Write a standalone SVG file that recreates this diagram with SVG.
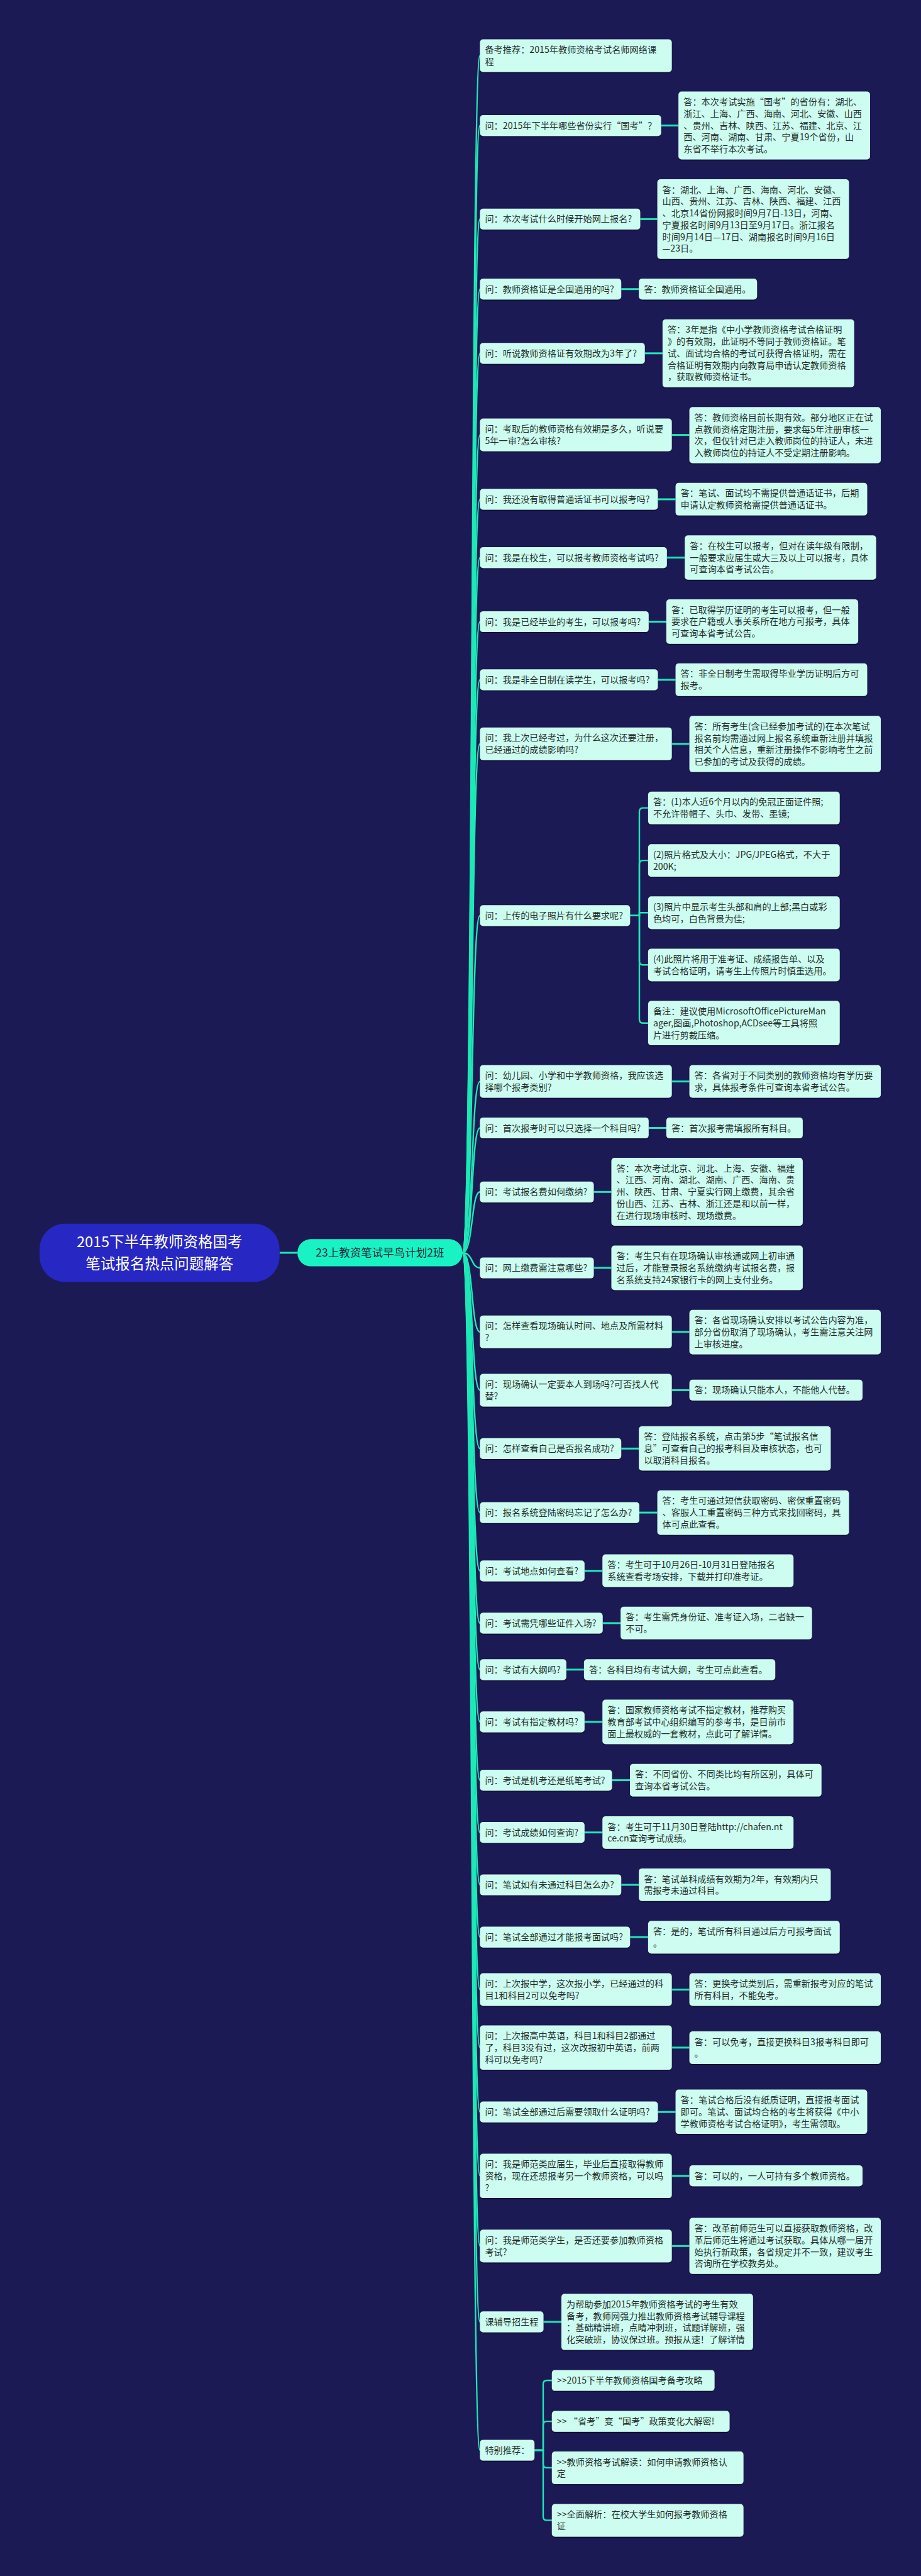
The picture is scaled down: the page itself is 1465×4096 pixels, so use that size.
<svg xmlns="http://www.w3.org/2000/svg" width="1465" height="4096" viewBox="0 0 1465 4096">
<defs>
<filter id="sh" x="-5%" y="-10%" width="110%" height="130%"><feDropShadow dx="0" dy="1.6" stdDeviation="0.7" flood-color="#000" flood-opacity="0.45"/></filter>
</defs>
<style>
.leaf{fill:#cdfdf0;filter:url(#sh)}
.t{font-family:"Noto Sans CJK SC","Noto Sans",sans-serif;font-size:14.2px;fill:#1f2f2c}
.c{fill:none;stroke:#1ee8b8;stroke-width:2.4;stroke-linecap:round}
.qa{fill:none;stroke:#1ee8b8;stroke-width:3}
</style>
<rect x="0" y="0" width="1465" height="4096" fill="#1b1a54"/>

<g id="connectors">
<path class="qa" d="M444.7,1992 H473.2"/>
<path class="c" d="M735.6,1992 C753,1992 749,88.5 763.4,88.5"/>
<path class="c" d="M735.6,1992 C753,1992 749,199.6 763.4,199.6"/>
<path class="c" d="M735.6,1992 C753,1992 749,348.4 763.4,348.4"/>
<path class="c" d="M735.6,1992 C753,1992 749,459.7 763.4,459.7"/>
<path class="c" d="M735.6,1992 C753,1992 749,561.8 763.4,561.8"/>
<path class="c" d="M735.6,1992 C753,1992 749,691.6 763.4,691.6"/>
<path class="c" d="M735.6,1992 C753,1992 749,793.9 763.4,793.9"/>
<path class="c" d="M735.6,1992 C753,1992 749,886.6 763.4,886.6"/>
<path class="c" d="M735.6,1992 C753,1992 749,988.5 763.4,988.5"/>
<path class="c" d="M735.6,1992 C753,1992 749,1080.9 763.4,1080.9"/>
<path class="c" d="M735.6,1992 C753,1992 749,1182.8 763.4,1182.8"/>
<path class="c" d="M735.6,1992 C753,1992 749,1455.9 763.4,1455.9"/>
<path class="c" d="M735.6,1992 C753,1992 749,1719.6 763.4,1719.6"/>
<path class="c" d="M735.6,1992 C753,1992 749,1793.5 763.4,1793.5"/>
<path class="c" d="M735.6,1992 C753,1992 749,1895.3 763.4,1895.3"/>
<path class="c" d="M735.6,1992 C753,1992 749,2016 763.4,2016"/>
<path class="c" d="M735.6,1992 C753,1992 749,2117.8 763.4,2117.8"/>
<path class="c" d="M735.6,1992 C753,1992 749,2210.5 763.4,2210.5"/>
<path class="c" d="M735.6,1992 C753,1992 749,2303.3 763.4,2303.3"/>
<path class="c" d="M735.6,1992 C753,1992 749,2405.1 763.4,2405.1"/>
<path class="c" d="M735.6,1992 C753,1992 749,2497.8 763.4,2497.8"/>
<path class="c" d="M735.6,1992 C753,1992 749,2580.9 763.4,2580.9"/>
<path class="c" d="M735.6,1992 C753,1992 749,2654.8 763.4,2654.8"/>
<path class="c" d="M735.6,1992 C753,1992 749,2737.9 763.4,2737.9"/>
<path class="c" d="M735.6,1992 C753,1992 749,2830.6 763.4,2830.6"/>
<path class="c" d="M735.6,1992 C753,1992 749,2913.7 763.4,2913.7"/>
<path class="c" d="M735.6,1992 C753,1992 749,2997 763.4,2997"/>
<path class="c" d="M735.6,1992 C753,1992 749,3080.1 763.4,3080.1"/>
<path class="c" d="M735.6,1992 C753,1992 749,3163.6 763.4,3163.6"/>
<path class="c" d="M735.6,1992 C753,1992 749,3255.8 763.4,3255.8"/>
<path class="c" d="M735.6,1992 C753,1992 749,3358.2 763.4,3358.2"/>
<path class="c" d="M735.6,1992 C753,1992 749,3459.8 763.4,3459.8"/>
<path class="c" d="M735.6,1992 C753,1992 749,3571.3 763.4,3571.3"/>
<path class="c" d="M735.6,1992 C753,1992 749,3691.9 763.4,3691.9"/>
<path class="c" d="M735.6,1992 C753,1992 749,3896 763.4,3896"/>

<path class="qa" d="M1051.6,199.6 H1079.2"/>
<path class="qa" d="M1018.4,348.4 H1045.6"/>
<path class="qa" d="M988.2,459.7 H1016.2"/>
<path class="qa" d="M1025.7,561.8 H1053.9"/>
<path class="qa" d="M1068.6,691.6 H1096.6"/>
<path class="qa" d="M1046.4,793.9 H1074.6"/>
<path class="qa" d="M1060.8,886.6 H1089.3"/>
<path class="qa" d="M1031.8,988.5 H1059.9"/>
<path class="qa" d="M1046.4,1080.9 H1074.6"/>
<path class="qa" d="M1068.6,1182.8 H1096.6"/>
<path class="qa" d="M1068.6,1719.6 H1096.6"/>
<path class="qa" d="M1031.8,1793.5 H1059.9"/>
<path class="qa" d="M944.5,1895.3 H972.5"/>
<path class="qa" d="M944.5,2016 H972.5"/>
<path class="qa" d="M1068.6,2117.8 H1096.6"/>
<path class="qa" d="M1068.6,2210.5 H1096.6"/>
<path class="qa" d="M988.2,2303.3 H1016.2"/>
<path class="qa" d="M1017,2405.1 H1045.6"/>
<path class="qa" d="M929.8,2497.8 H958.3"/>
<path class="qa" d="M958.7,2580.9 H987.2"/>
<path class="qa" d="M900.8,2654.8 H928.9"/>
<path class="qa" d="M929.8,2737.9 H958.3"/>
<path class="qa" d="M973.5,2830.6 H1002"/>
<path class="qa" d="M929.8,2913.7 H958.3"/>
<path class="qa" d="M988.2,2997 H1016.2"/>
<path class="qa" d="M1002.2,3080.1 H1030.9"/>
<path class="qa" d="M1068.6,3163.6 H1096.6"/>
<path class="qa" d="M1068.6,3255.8 H1096.6"/>
<path class="qa" d="M1046.5,3358.2 H1074.6"/>
<path class="qa" d="M1068.6,3459.8 H1096.6"/>
<path class="qa" d="M1068.6,3571.3 H1096.6"/>
<path class="qa" d="M864.5,3691.9 H893"/>

<path class="c" d="M1002.3,1455.9 H1017 V1290.6 Q1017,1284.6 1023,1284.6 H1030.9"/>
<path class="c" d="M1002.3,1455.9 H1017 V1374.1 Q1017,1368.1 1023,1368.1 H1030.9"/>
<path class="c" d="M1002.3,1455.9 H1017 V1451.2 H1030.9"/>
<path class="c" d="M1002.3,1455.9 H1017 V1528.3 Q1017,1534.3 1023,1534.3 H1030.9"/>
<path class="c" d="M1002.3,1455.9 H1017 V1620.8 Q1017,1626.8 1023,1626.8 H1030.9"/>

<path class="c" d="M850.2,3896 H864 V3791 Q864,3785 870,3785 H877.8"/>
<path class="c" d="M850.2,3896 H864 V3856.1 Q864,3850.1 870,3850.1 H877.8"/>
<path class="c" d="M850.2,3896 H864 V3917.9 Q864,3923.9 870,3923.9 H877.8"/>
<path class="c" d="M850.2,3896 H864 V4001.4 Q864,4007.4 870,4007.4 H877.8"/>
</g>

<g id="root">
<rect x="62.9" y="1945.8" width="381.8" height="92.5" rx="40" fill="#2727c3"/>
<text font-family="'Noto Sans CJK SC','Noto Sans',sans-serif" font-size="23.5" fill="#ffffff" text-anchor="middle"><tspan x="253.8" y="1982.5">2015下半年教师资格国考</tspan><tspan x="253.8" y="2017.8">笔试报名热点问题解答</tspan></text>
</g>

<g id="center">
<rect x="473.2" y="1970.3" width="262.4" height="43.3" rx="21" fill="#19f2c2"/>
<text font-family="'Noto Sans CJK SC','Noto Sans',sans-serif" font-size="17.5" fill="#1b2a40" text-anchor="middle"><tspan x="604.4" y="1998.2">23上教资笔试早鸟计划2班</tspan></text>
</g>

<g id="n1"><rect class="leaf" x="763.4" y="62.6" width="305.2" height="51.9" rx="5"/><text class="t"><tspan x="771.4" y="84.2">备考推荐：2015年教师资格考试名师网络课</tspan><tspan x="771.4" y="102.9">程</tspan></text></g>

<g id="n2"><rect class="leaf" x="763.4" y="183" width="288.2" height="33.2" rx="5"/><text class="t"><tspan x="771.4" y="204.6">问：2015年下半年哪些省份实行“国考”？</tspan></text></g>
<g id="a2"><rect class="leaf" x="1079.2" y="145.6" width="304.8" height="107.9" rx="5"/><text class="t"><tspan x="1087.2" y="167.2">答：本次考试实施“国考”的省份有：湖北、</tspan><tspan x="1087.2" y="185.9">浙江、上海、广西、海南、河北、安徽、山西</tspan><tspan x="1087.2" y="204.6">、贵州、吉林、陕西、江苏、福建、北京、江</tspan><tspan x="1087.2" y="223.3">西、河南、湖南、甘肃、宁夏19个省份，山</tspan><tspan x="1087.2" y="242">东省不举行本次考试。</tspan></text></g>

<g id="n3"><rect class="leaf" x="763.4" y="331.8" width="255" height="33.2" rx="5"/><text class="t"><tspan x="771.4" y="353.4">问：本次考试什么时候开始网上报名?</tspan></text></g>
<g id="a3"><rect class="leaf" x="1045.6" y="285.1" width="304.8" height="126.6" rx="5"/><text class="t"><tspan x="1053.6" y="306.7">答：湖北、上海、广西、海南、河北、安徽、</tspan><tspan x="1053.6" y="325.4">山西、贵州、江苏、吉林、陕西、福建、江西</tspan><tspan x="1053.6" y="344.1">、北京14省份网报时间9月7日-13日，河南、</tspan><tspan x="1053.6" y="362.8">宁夏报名时间9月13日至9月17日。浙江报名</tspan><tspan x="1053.6" y="381.5">时间9月14日—17日、湖南报名时间9月16日</tspan><tspan x="1053.6" y="400.2">—23日。</tspan></text></g>

<g id="n4"><rect class="leaf" x="763.4" y="443.1" width="224.8" height="33.2" rx="5"/><text class="t"><tspan x="771.4" y="464.7">问：教师资格证是全国通用的吗?</tspan></text></g>
<g id="a4"><rect class="leaf" x="1016.2" y="443.1" width="188" height="33.2" rx="5"/><text class="t"><tspan x="1024.2" y="464.7">答：教师资格证全国通用。</tspan></text></g>

<g id="n5"><rect class="leaf" x="763.4" y="545.2" width="262.3" height="33.2" rx="5"/><text class="t"><tspan x="771.4" y="566.8">问：听说教师资格证有效期改为3年了?</tspan></text></g>
<g id="a5"><rect class="leaf" x="1053.9" y="507.8" width="304.8" height="107.9" rx="5"/><text class="t"><tspan x="1061.9" y="529.4">答：3年是指《中小学教师资格考试合格证明</tspan><tspan x="1061.9" y="548.1">》的有效期，此证明不等同于教师资格证。笔</tspan><tspan x="1061.9" y="566.8">试、面试均合格的考试可获得合格证明，需在</tspan><tspan x="1061.9" y="585.5">合格证明有效期内向教育局申请认定教师资格</tspan><tspan x="1061.9" y="604.2">，获取教师资格证书。</tspan></text></g>

<g id="n6"><rect class="leaf" x="763.4" y="665.6" width="305.2" height="51.9" rx="5"/><text class="t"><tspan x="771.4" y="687.2">问：考取后的教师资格有效期是多久，听说要</tspan><tspan x="771.4" y="705.9">5年一审?怎么审核?</tspan></text></g>
<g id="a6"><rect class="leaf" x="1096.6" y="647.2" width="304.4" height="89.3" rx="5"/><text class="t"><tspan x="1104.6" y="668.8">答：教师资格目前长期有效。部分地区正在试</tspan><tspan x="1104.6" y="687.5">点教师资格定期注册，要求每5年注册审核一</tspan><tspan x="1104.6" y="706.2">次，但仅针对已走入教师岗位的持证人，未进</tspan><tspan x="1104.6" y="724.9">入教师岗位的持证人不受定期注册影响。</tspan></text></g>

<g id="n7"><rect class="leaf" x="763.4" y="777.3" width="283" height="33.2" rx="5"/><text class="t"><tspan x="771.4" y="798.9">问：我还没有取得普通话证书可以报考吗?</tspan></text></g>
<g id="a7"><rect class="leaf" x="1074.6" y="767.7" width="304.8" height="51.9" rx="5"/><text class="t"><tspan x="1082.6" y="789.3">答：笔试、面试均不需提供普通话证书，后期</tspan><tspan x="1082.6" y="808">申请认定教师资格需提供普通话证书。</tspan></text></g>

<g id="n8"><rect class="leaf" x="763.4" y="870" width="297.4" height="33.2" rx="5"/><text class="t"><tspan x="771.4" y="891.6">问：我是在校生，可以报考教师资格考试吗?</tspan></text></g>
<g id="a8"><rect class="leaf" x="1089.3" y="851.2" width="304.3" height="70.6" rx="5"/><text class="t"><tspan x="1097.3" y="872.8">答：在校生可以报考，但对在读年级有限制，</tspan><tspan x="1097.3" y="891.5">一般要求应届生或大三及以上可以报考，具体</tspan><tspan x="1097.3" y="910.2">可查询本省考试公告。</tspan></text></g>

<g id="n9"><rect class="leaf" x="763.4" y="971.9" width="268.4" height="33.2" rx="5"/><text class="t"><tspan x="771.4" y="993.5">问：我是已经毕业的考生，可以报考吗?</tspan></text></g>
<g id="a9"><rect class="leaf" x="1059.9" y="953.1" width="305.2" height="70.6" rx="5"/><text class="t"><tspan x="1067.9" y="974.7">答：已取得学历证明的考生可以报考，但一般</tspan><tspan x="1067.9" y="993.4">要求在户籍或人事关系所在地方可报考，具体</tspan><tspan x="1067.9" y="1012.1">可查询本省考试公告。</tspan></text></g>

<g id="n10"><rect class="leaf" x="763.4" y="1064.3" width="283" height="33.2" rx="5"/><text class="t"><tspan x="771.4" y="1085.9">问：我是非全日制在读学生，可以报考吗?</tspan></text></g>
<g id="a10"><rect class="leaf" x="1074.6" y="1054.8" width="304.8" height="51.9" rx="5"/><text class="t"><tspan x="1082.6" y="1076.4">答：非全日制考生需取得毕业学历证明后方可</tspan><tspan x="1082.6" y="1095.1">报考。</tspan></text></g>

<g id="n11"><rect class="leaf" x="763.4" y="1156.8" width="305.2" height="51.9" rx="5"/><text class="t"><tspan x="771.4" y="1178.4">问：我上次已经考过，为什么这次还要注册，</tspan><tspan x="771.4" y="1197.1">已经通过的成绩影响吗?</tspan></text></g>
<g id="a11"><rect class="leaf" x="1096.6" y="1138.3" width="304.4" height="89.3" rx="5"/><text class="t"><tspan x="1104.6" y="1159.9">答：所有考生(含已经参加考试的)在本次笔试</tspan><tspan x="1104.6" y="1178.6">报名前均需通过网上报名系统重新注册并填报</tspan><tspan x="1104.6" y="1197.3">相关个人信息，重新注册操作不影响考生之前</tspan><tspan x="1104.6" y="1216">已参加的考试及获得的成绩。</tspan></text></g>

<g id="n12"><rect class="leaf" x="763.4" y="1439.3" width="238.9" height="33.2" rx="5"/><text class="t"><tspan x="771.4" y="1460.9">问：上传的电子照片有什么要求呢?</tspan></text></g>
<g id="s1"><rect class="leaf" x="1030.9" y="1258.7" width="304.8" height="51.9" rx="5"/><text class="t"><tspan x="1038.9" y="1280.3">答：(1)本人近6个月以内的免冠正面证件照;</tspan><tspan x="1038.9" y="1299">不允许带帽子、头巾、发带、墨镜;</tspan></text></g>
<g id="s2"><rect class="leaf" x="1030.9" y="1342.2" width="304.8" height="51.9" rx="5"/><text class="t"><tspan x="1038.9" y="1363.8">(2)照片格式及大小：JPG/JPEG格式，不大于</tspan><tspan x="1038.9" y="1382.5">200K;</tspan></text></g>
<g id="s3"><rect class="leaf" x="1030.9" y="1425.3" width="304.8" height="51.9" rx="5"/><text class="t"><tspan x="1038.9" y="1446.9">(3)照片中显示考生头部和肩的上部;黑白或彩</tspan><tspan x="1038.9" y="1465.6">色均可，白色背景为佳;</tspan></text></g>
<g id="s4"><rect class="leaf" x="1030.9" y="1508.4" width="304.8" height="51.9" rx="5"/><text class="t"><tspan x="1038.9" y="1530">(4)此照片将用于准考证、成绩报告单、以及</tspan><tspan x="1038.9" y="1548.7">考试合格证明，请考生上传照片时慎重选用。</tspan></text></g>
<g id="s5"><rect class="leaf" x="1030.9" y="1591.5" width="304.8" height="70.6" rx="5"/><text class="t"><tspan x="1038.9" y="1613.1">备注：建议使用MicrosoftOfficePictureMan</tspan><tspan x="1038.9" y="1631.8">ager,图画,Photoshop,ACDsee等工具将照</tspan><tspan x="1038.9" y="1650.5">片进行剪裁压缩。</tspan></text></g>

<g id="n13"><rect class="leaf" x="763.4" y="1693.6" width="305.2" height="51.9" rx="5"/><text class="t"><tspan x="771.4" y="1715.2">问：幼儿园、小学和中学教师资格，我应该选</tspan><tspan x="771.4" y="1733.9">择哪个报考类别?</tspan></text></g>
<g id="a13"><rect class="leaf" x="1096.6" y="1693.6" width="304.4" height="51.9" rx="5"/><text class="t"><tspan x="1104.6" y="1715.2">答：各省对于不同类别的教师资格均有学历要</tspan><tspan x="1104.6" y="1733.9">求，具体报考条件可查询本省考试公告。</tspan></text></g>

<g id="n14"><rect class="leaf" x="763.4" y="1776.9" width="268.4" height="33.2" rx="5"/><text class="t"><tspan x="771.4" y="1798.5">问：首次报考时可以只选择一个科目吗?</tspan></text></g>
<g id="a14"><rect class="leaf" x="1059.9" y="1776.9" width="217" height="33.2" rx="5"/><text class="t"><tspan x="1067.9" y="1798.5">答：首次报考需填报所有科目。</tspan></text></g>

<g id="n15"><rect class="leaf" x="763.4" y="1878.7" width="181.1" height="33.2" rx="5"/><text class="t"><tspan x="771.4" y="1900.3">问：考试报名费如何缴纳?</tspan></text></g>
<g id="a15"><rect class="leaf" x="972.5" y="1841.1" width="304.4" height="107.9" rx="5"/><text class="t"><tspan x="980.5" y="1862.7">答：本次考试北京、河北、上海、安徽、福建</tspan><tspan x="980.5" y="1881.4">、江西、河南、湖北、湖南、广西、海南、贵</tspan><tspan x="980.5" y="1900.1">州、陕西、甘肃、宁夏实行网上缴费，其余省</tspan><tspan x="980.5" y="1918.8">份山西、江苏、吉林、浙江还是和以前一样，</tspan><tspan x="980.5" y="1937.5">在进行现场审核时、现场缴费。</tspan></text></g>

<g id="n16"><rect class="leaf" x="763.4" y="1999.4" width="181.1" height="33.2" rx="5"/><text class="t"><tspan x="771.4" y="2021">问：网上缴费需注意哪些?</tspan></text></g>
<g id="a16"><rect class="leaf" x="972.5" y="1980.6" width="304.4" height="70.6" rx="5"/><text class="t"><tspan x="980.5" y="2002.2">答：考生只有在现场确认审核通或网上初审通</tspan><tspan x="980.5" y="2020.9">过后，才能登录报名系统缴纳考试报名费，报</tspan><tspan x="980.5" y="2039.6">名系统支持24家银行卡的网上支付业务。</tspan></text></g>

<g id="n17"><rect class="leaf" x="763.4" y="2091.8" width="305.2" height="51.9" rx="5"/><text class="t"><tspan x="771.4" y="2113.4">问：怎样查看现场确认时间、地点及所需材料</tspan><tspan x="771.4" y="2132.1">?</tspan></text></g>
<g id="a17"><rect class="leaf" x="1096.6" y="2082.8" width="304.4" height="70.6" rx="5"/><text class="t"><tspan x="1104.6" y="2104.4">答：各省现场确认安排以考试公告内容为准，</tspan><tspan x="1104.6" y="2123.1">部分省份取消了现场确认，考生需注意关注网</tspan><tspan x="1104.6" y="2141.8">上审核进度。</tspan></text></g>

<g id="n18"><rect class="leaf" x="763.4" y="2184.5" width="305.2" height="51.9" rx="5"/><text class="t"><tspan x="771.4" y="2206.1">问：现场确认一定要本人到场吗?可否找人代</tspan><tspan x="771.4" y="2224.8">替?</tspan></text></g>
<g id="a18"><rect class="leaf" x="1096.6" y="2193.7" width="275.4" height="33.2" rx="5"/><text class="t"><tspan x="1104.6" y="2215.3">答：现场确认只能本人，不能他人代替。</tspan></text></g>

<g id="n19"><rect class="leaf" x="763.4" y="2286.7" width="224.8" height="33.2" rx="5"/><text class="t"><tspan x="771.4" y="2308.3">问：怎样查看自己是否报名成功?</tspan></text></g>
<g id="a19"><rect class="leaf" x="1016.2" y="2267.7" width="305.2" height="70.6" rx="5"/><text class="t"><tspan x="1024.2" y="2289.3">答：登陆报名系统，点击第5步“笔试报名信</tspan><tspan x="1024.2" y="2308">息”可查看自己的报考科目及审核状态，也可</tspan><tspan x="1024.2" y="2326.7">以取消科目报名。</tspan></text></g>

<g id="n20"><rect class="leaf" x="763.4" y="2388.5" width="253.6" height="33.2" rx="5"/><text class="t"><tspan x="771.4" y="2410.1">问：报名系统登陆密码忘记了怎么办?</tspan></text></g>
<g id="a20"><rect class="leaf" x="1045.6" y="2369.8" width="304.8" height="70.6" rx="5"/><text class="t"><tspan x="1053.6" y="2391.4">答：考生可通过短信获取密码、密保重置密码</tspan><tspan x="1053.6" y="2410.1">、客服人工重置密码三种方式来找回密码，具</tspan><tspan x="1053.6" y="2428.8">体可点此查看。</tspan></text></g>

<g id="n21"><rect class="leaf" x="763.4" y="2481.2" width="166.4" height="33.2" rx="5"/><text class="t"><tspan x="771.4" y="2502.8">问：考试地点如何查看?</tspan></text></g>
<g id="a21"><rect class="leaf" x="958.3" y="2471.6" width="303.9" height="51.9" rx="5"/><text class="t"><tspan x="966.3" y="2493.2">答：考生可于10月26日-10月31日登陆报名</tspan><tspan x="966.3" y="2511.9">系统查看考场安排，下载并打印准考证。</tspan></text></g>

<g id="n22"><rect class="leaf" x="763.4" y="2564.3" width="195.3" height="33.2" rx="5"/><text class="t"><tspan x="771.4" y="2585.9">问：考试需凭哪些证件入场?</tspan></text></g>
<g id="a22"><rect class="leaf" x="987.2" y="2554.7" width="304.4" height="51.9" rx="5"/><text class="t"><tspan x="995.2" y="2576.3">答：考生需凭身份证、准考证入场，二者缺一</tspan><tspan x="995.2" y="2595">不可。</tspan></text></g>

<g id="n23"><rect class="leaf" x="763.4" y="2638.2" width="137.4" height="33.2" rx="5"/><text class="t"><tspan x="771.4" y="2659.8">问：考试有大纲吗?</tspan></text></g>
<g id="a23"><rect class="leaf" x="928.9" y="2638.2" width="304.3" height="33.2" rx="5"/><text class="t"><tspan x="936.9" y="2659.8">答：各科目均有考试大纲，考生可点此查看。</tspan></text></g>

<g id="n24"><rect class="leaf" x="763.4" y="2721.3" width="166.4" height="33.2" rx="5"/><text class="t"><tspan x="771.4" y="2742.9">问：考试有指定教材吗?</tspan></text></g>
<g id="a24"><rect class="leaf" x="958.3" y="2702.6" width="303.9" height="70.6" rx="5"/><text class="t"><tspan x="966.3" y="2724.2">答：国家教师资格考试不指定教材，推荐购买</tspan><tspan x="966.3" y="2742.9">教育部考试中心组织编写的参考书，是目前市</tspan><tspan x="966.3" y="2761.6">面上最权威的一套教材，点此可了解详情。</tspan></text></g>

<g id="n25"><rect class="leaf" x="763.4" y="2814" width="210.1" height="33.2" rx="5"/><text class="t"><tspan x="771.4" y="2835.6">问：考试是机考还是纸笔考试?</tspan></text></g>
<g id="a25"><rect class="leaf" x="1002" y="2804.7" width="304.7" height="51.9" rx="5"/><text class="t"><tspan x="1010" y="2826.3">答：不同省份、不同类比均有所区别，具体可</tspan><tspan x="1010" y="2845">查询本省考试公告。</tspan></text></g>

<g id="n26"><rect class="leaf" x="763.4" y="2897.1" width="166.4" height="33.2" rx="5"/><text class="t"><tspan x="771.4" y="2918.7">问：考试成绩如何查询?</tspan></text></g>
<g id="a26"><rect class="leaf" x="958.3" y="2887.9" width="303.9" height="51.9" rx="5"/><text class="t"><tspan x="966.3" y="2909.5">答：考生可于11月30日登陆http://chafen.nt</tspan><tspan x="966.3" y="2928.2">ce.cn查询考试成绩。</tspan></text></g>

<g id="n27"><rect class="leaf" x="763.4" y="2980.4" width="224.8" height="33.2" rx="5"/><text class="t"><tspan x="771.4" y="3002">问：笔试如有未通过科目怎么办?</tspan></text></g>
<g id="a27"><rect class="leaf" x="1016.2" y="2970.9" width="305.2" height="51.9" rx="5"/><text class="t"><tspan x="1024.2" y="2992.5">答：笔试单科成绩有效期为2年，有效期内只</tspan><tspan x="1024.2" y="3011.2">需报考未通过科目。</tspan></text></g>

<g id="n28"><rect class="leaf" x="763.4" y="3063.5" width="238.8" height="33.2" rx="5"/><text class="t"><tspan x="771.4" y="3085.1">问：笔试全部通过才能报考面试吗?</tspan></text></g>
<g id="a28"><rect class="leaf" x="1030.9" y="3054.3" width="304.8" height="51.9" rx="5"/><text class="t"><tspan x="1038.9" y="3075.9">答：是的，笔试所有科目通过后方可报考面试</tspan><tspan x="1038.9" y="3094.6">。</tspan></text></g>

<g id="n29"><rect class="leaf" x="763.4" y="3137.6" width="305.2" height="51.9" rx="5"/><text class="t"><tspan x="771.4" y="3159.2">问：上次报中学，这次报小学，已经通过的科</tspan><tspan x="771.4" y="3177.9">目1和科目2可以免考吗?</tspan></text></g>
<g id="a29"><rect class="leaf" x="1096.6" y="3137.6" width="304.4" height="51.9" rx="5"/><text class="t"><tspan x="1104.6" y="3159.2">答：更换考试类别后，需重新报考对应的笔试</tspan><tspan x="1104.6" y="3177.9">所有科目，不能免考。</tspan></text></g>

<g id="n30"><rect class="leaf" x="763.4" y="3220.5" width="305.2" height="70.6" rx="5"/><text class="t"><tspan x="771.4" y="3242.1">问：上次报高中英语，科目1和科目2都通过</tspan><tspan x="771.4" y="3260.8">了，科目3没有过，这次改报初中英语，前两</tspan><tspan x="771.4" y="3279.5">科可以免考吗?</tspan></text></g>
<g id="a30"><rect class="leaf" x="1096.6" y="3230.1" width="304.4" height="51.9" rx="5"/><text class="t"><tspan x="1104.6" y="3251.7">答：可以免考，直接更换科目3报考科目即可</tspan><tspan x="1104.6" y="3270.4">。</tspan></text></g>

<g id="n31"><rect class="leaf" x="763.4" y="3341.6" width="283.1" height="33.2" rx="5"/><text class="t"><tspan x="771.4" y="3363.2">问：笔试全部通过后需要领取什么证明吗?</tspan></text></g>
<g id="a31"><rect class="leaf" x="1074.6" y="3322.5" width="304.8" height="70.6" rx="5"/><text class="t"><tspan x="1082.6" y="3344.1">答：笔试合格后没有纸质证明，直接报考面试</tspan><tspan x="1082.6" y="3362.8">即可。笔试、面试均合格的考生将获得《中小</tspan><tspan x="1082.6" y="3381.5">学教师资格考试合格证明》，考生需领取。</tspan></text></g>

<g id="n32"><rect class="leaf" x="763.4" y="3424.5" width="305.2" height="70.6" rx="5"/><text class="t"><tspan x="771.4" y="3446.1">问：我是师范类应届生，毕业后直接取得教师</tspan><tspan x="771.4" y="3464.8">资格，现在还想报考另一个教师资格，可以吗</tspan><tspan x="771.4" y="3483.5">?</tspan></text></g>
<g id="a32"><rect class="leaf" x="1096.6" y="3443.1" width="275.4" height="33.2" rx="5"/><text class="t"><tspan x="1104.6" y="3464.7">答：可以的，一人可持有多个教师资格。</tspan></text></g>

<g id="n33"><rect class="leaf" x="763.4" y="3545.3" width="305.2" height="51.9" rx="5"/><text class="t"><tspan x="771.4" y="3566.9">问：我是师范类学生，是否还要参加教师资格</tspan><tspan x="771.4" y="3585.6">考试?</tspan></text></g>
<g id="a33"><rect class="leaf" x="1096.6" y="3526.5" width="304.4" height="89.3" rx="5"/><text class="t"><tspan x="1104.6" y="3548.1">答：改革前师范生可以直接获取教师资格，改</tspan><tspan x="1104.6" y="3566.8">革后师范生将通过考试获取。具体从哪一届开</tspan><tspan x="1104.6" y="3585.5">始执行新政策，各省规定并不一致，建议考生</tspan><tspan x="1104.6" y="3604.2">咨询所在学校教务处。</tspan></text></g>

<g id="n34"><rect class="leaf" x="763.4" y="3675.3" width="101.1" height="33.2" rx="5"/><text class="t"><tspan x="771.4" y="3696.9">课辅导招生程</tspan></text></g>
<g id="a34"><rect class="leaf" x="893" y="3647.3" width="304.8" height="89.3" rx="5"/><text class="t"><tspan x="901" y="3668.9">为帮助参加2015年教师资格考试的考生有效</tspan><tspan x="901" y="3687.6">备考，教师网强力推出教师资格考试辅导课程</tspan><tspan x="901" y="3706.3">：基础精讲班，点睛冲刺班，试题详解班，强</tspan><tspan x="901" y="3725">化突破班，协议保过班。预报从速！了解详情</tspan></text></g>

<g id="n35"><rect class="leaf" x="763.4" y="3879.4" width="86.8" height="33.2" rx="5"/><text class="t"><tspan x="771.4" y="3901">特别推荐：</tspan></text></g>
<g id="r1"><rect class="leaf" x="877.8" y="3768.4" width="258.8" height="33.2" rx="5"/><text class="t"><tspan x="885.8" y="3790">&gt;&gt;2015下半年教师资格国考备考攻略</tspan></text></g>
<g id="r2"><rect class="leaf" x="877.8" y="3833.5" width="282.7" height="33.2" rx="5"/><text class="t"><tspan x="885.8" y="3855.1">&gt;&gt; “省考”变“国考”政策变化大解密!</tspan></text></g>
<g id="r3"><rect class="leaf" x="877.8" y="3898" width="304.8" height="51.9" rx="5"/><text class="t"><tspan x="885.8" y="3919.6">&gt;&gt;教师资格考试解读：如何申请教师资格认</tspan><tspan x="885.8" y="3938.3">定</tspan></text></g>
<g id="r4"><rect class="leaf" x="877.8" y="3981.5" width="304.8" height="51.9" rx="5"/><text class="t"><tspan x="885.8" y="4003.1">&gt;&gt;全面解析：在校大学生如何报考教师资格</tspan><tspan x="885.8" y="4021.8">证</tspan></text></g>
</svg>
